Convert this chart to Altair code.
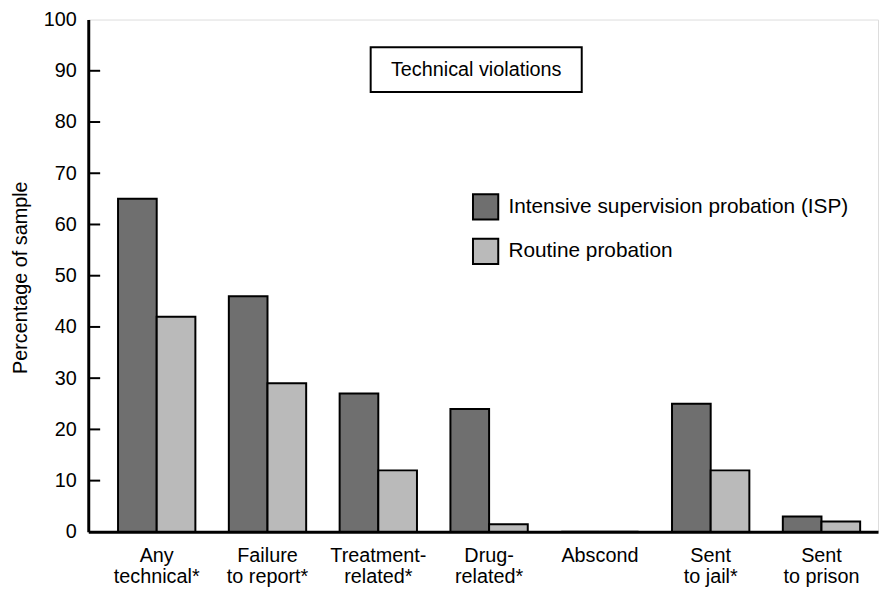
import altair as alt
import pandas as pd

categories = ["Any|technical*", "Failure|to report*", "Treatment-|related*", "Drug-|related*",
              "Abscond", "Sent|to jail*", "Sent|to prison"]
groups = ["Intensive supervision probation (ISP)", "Routine probation"]
isp_values = [65, 46, 27, 24, 0, 25, 3]
routine_values = [42, 29, 12, 1.5, 0, 12, 2]
y_ticks = [0, 10, 20, 30, 40, 50, 60, 70, 80, 90, 100]
panel_title = "Technical violations"

rows = []
for c, a, b in zip(categories, isp_values, routine_values):
    rows.append({"category": c, "group": groups[0], "value": a})
    rows.append({"category": c, "group": groups[1], "value": b})
df = pd.DataFrame(rows)

FONT = "Liberation Sans"

bars = alt.Chart(df).mark_bar(stroke="black", strokeWidth=2).encode(
    x=alt.X("category:N", sort=categories,
            scale=alt.Scale(paddingInner=0.302, paddingOuter=0.215, align=0.625),
            axis=alt.Axis(title=None, labelExpr="split(datum.label, '|')",
                          labelAngle=0, labelFontSize=20, labelFont=FONT, labelColor="black",
                          labelLineHeight=21, labelBaseline="top", labelPadding=14,
                          ticks=False, domainWidth=3, domainColor="black")),
    xOffset=alt.XOffset("group:N", sort=groups,
                        scale=alt.Scale(paddingInner=0, paddingOuter=0)),
    y=alt.Y("value:Q", scale=alt.Scale(domain=[0, 100], nice=False),
            axis=alt.Axis(title="Percentage of sample", values=y_ticks, grid=False,
                          ticks=False, labelPadding=12, labelFontSize=20, labelFont=FONT,
                          labelColor="black", domainWidth=3, domainColor="black",
                          titleFontSize=20, titleFont=FONT, titleFontWeight="normal",
                          titleColor="black", titleAngle=270, titleX=-68, titleY=260,
                          titleAlign="center", titleBaseline="middle")),
    fill=alt.Fill("group:N", sort=groups,
                  scale=alt.Scale(domain=groups, range=["#6f6f6f", "#bababa"]),
                  legend=alt.Legend(title=None, orient="none", legendX=387, legendY=175,
                                    symbolType="square", symbolSize=650,
                                    symbolStrokeColor="black", symbolStrokeWidth=2,
                                    labelFontSize=21, labelFont=FONT, labelColor="black",
                                    labelLimit=0, labelOffset=9, rowPadding=11)),
)

ticks = alt.Chart(pd.DataFrame({"t": y_ticks[1:-1]})).mark_rule(
    color="black", strokeWidth=2).encode(
    y=alt.Y("t:Q"), x=alt.value(0), x2=alt.value(12))

box = alt.Chart(pd.DataFrame({"label": [panel_title]})).mark_rect(
    fill="white", stroke="black", strokeWidth=2).encode(
    x=alt.value(285), x2=alt.value(498), y=alt.value(28), y2=alt.value(73))

box_text = alt.Chart(pd.DataFrame({"label": [panel_title]})).mark_text(
    fontSize=20, font=FONT, color="black", align="center", baseline="middle").encode(
    x=alt.value(391.5), y=alt.value(51), text="label:N")

chart = alt.layer(bars, ticks, box, box_text).properties(
    width=797, height=517,
    autosize=alt.AutoSizeParams(type="none"),
    padding={"left": 81, "top": 9, "right": 2, "bottom": 55},
).configure_view(stroke="black", strokeWidth=2).configure(background="white")

chart.save("out.html", embed_options={"renderer": "svg", "actions": False})
